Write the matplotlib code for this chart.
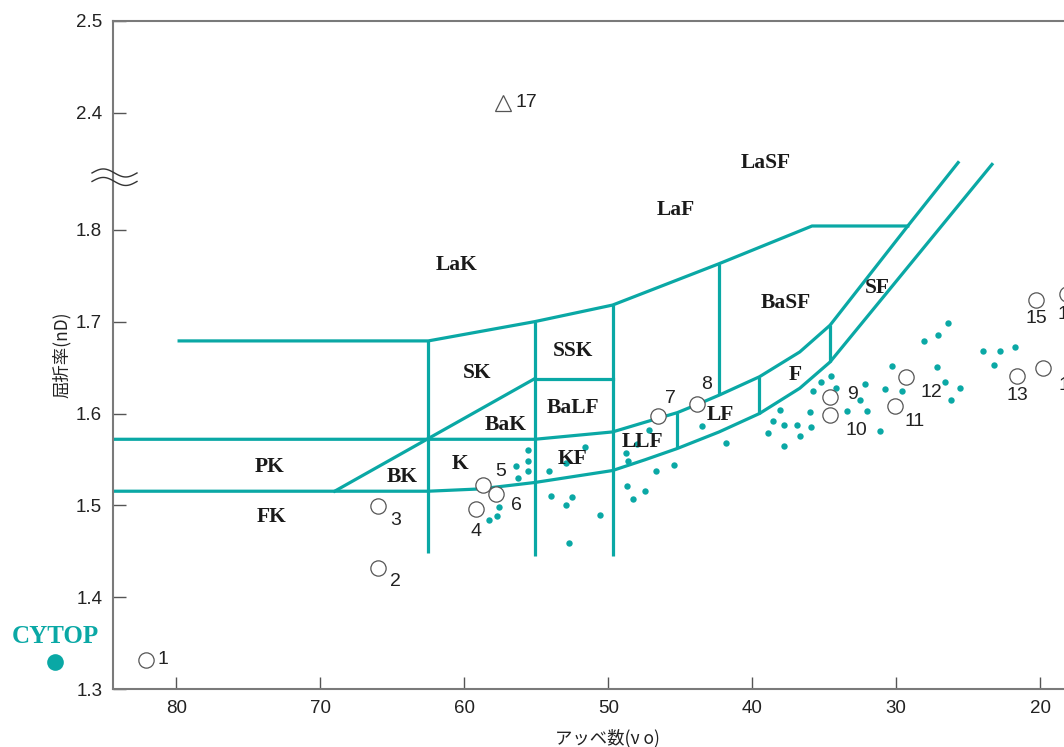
import numpy as np
import matplotlib.pyplot as plt

TEAL = "#0aa8a5"
GRAY = "#7a7a7a"

# glass map boundary lines (Abbe number, refractive index)
upper_vd = [84.4, 62.5, 55.1, 49.7, 46.5, 45.2, 43.8, 42.3, 39.5, 36.7, 34.6, 29.2, 25.7]
upper_nd = [1.572, 1.572, 1.572, 1.580, 1.595, 1.601, 1.610, 1.620, 1.640, 1.667, 1.696, 1.804, 1.873]
lower_vd = [84.4, 62.5, 58.9, 55.1, 49.7, 47.45, 45.2, 42.3, 39.5, 36.7, 34.6, 23.35]
lower_nd = [1.5155, 1.5155, 1.518, 1.525, 1.538, 1.5497, 1.562, 1.580, 1.600, 1.6275, 1.656, 1.871]
top_vd = [79.8, 62.5, 55.1, 49.7, 42.3, 35.85, 29.2]
top_nd = [1.679, 1.679, 1.700, 1.718, 1.763, 1.804, 1.804]
bak_vd = [55.1, 69.0]
bak_nd = [1.638, 1.5155]
ssk_vd = [55.1, 49.7]
ssk_nd = [1.638, 1.638]
vert_vd = [62.5, 55.1, 49.7, 42.3, 45.2, 39.5, 34.6]
vert_lo = [1.448, 1.445, 1.445, 1.620, 1.562, 1.600, 1.656]
vert_hi = [1.679, 1.700, 1.718, 1.763, 1.601, 1.640, 1.696]

# commercial optical glasses (small dots)
dots_vd = [55.6, 51.6, 56.4, 55.6, 55.6, 56.3, 54.1, 52.9, 54.0, 52.5, 52.9, 50.6, 52.7,
           57.6, 57.75, 58.3, 48.8, 48.0, 48.6, 48.7, 48.3, 47.45, 47.2, 46.7, 45.4,
           43.5, 41.8, 38.1, 38.55, 37.8, 36.9, 38.9, 36.7, 37.8, 35.9, 36.0, 35.8,
           35.2, 34.55, 34.2, 32.5, 33.4, 32.0, 32.2, 30.8, 30.3, 29.6, 28.1, 27.1,
           26.4, 27.2, 26.6, 25.6, 26.2, 24.0, 22.8, 21.75, 23.2, 31.1]
dots_nd = [1.560, 1.564, 1.543, 1.548, 1.538, 1.530, 1.537, 1.546, 1.510, 1.509, 1.500,
           1.490, 1.459, 1.498, 1.489, 1.484, 1.557, 1.567, 1.548, 1.521, 1.507, 1.516,
           1.582, 1.537, 1.544, 1.586, 1.568, 1.604, 1.592, 1.588, 1.587, 1.579, 1.576,
           1.565, 1.585, 1.602, 1.625, 1.634, 1.641, 1.628, 1.615, 1.603, 1.603, 1.632,
           1.627, 1.652, 1.625, 1.679, 1.685, 1.698, 1.651, 1.634, 1.628, 1.615, 1.668,
           1.668, 1.672, 1.653, 1.581]

# numbered materials (open circles)
sample_no = ["1", "2", "3", "4", "5", "6", "7", "8", "9", "10", "11", "12", "13", "14", "15", "16"]
sample_vd = [82.1, 66.0, 66.0, 59.2, 58.7, 57.8, 46.55, 43.84, 34.6, 34.6, 30.1, 29.35, 21.6, 19.8, 20.3, 18.15]
sample_nd = [1.332, 1.432, 1.499, 1.496, 1.522, 1.512, 1.597, 1.610, 1.618, 1.598, 1.608, 1.640, 1.641, 1.649, 1.724, 1.730]
tri_vd = 57.3
tri_nd = 2.411

region_names = ["PK", "FK", "BK", "K", "SK", "BaK", "BaLF", "SSK", "KF", "LLF", "LF", "F",
                "BaSF", "SF", "LaK", "LaF", "LaSF"]
region_vd = [73.5, 73.4, 64.3, 60.3, 59.1, 57.1, 52.45, 52.45, 52.45, 47.6, 42.2, 37.0,
             37.7, 31.3, 60.5, 45.3, 39.05]
region_nd = [1.5416, 1.487, 1.5307, 1.545, 1.644, 1.588, 1.606, 1.668, 1.5503, 1.569, 1.598,
             1.642, 1.720, 1.737, 1.762, 1.821, 1.873]

cytop_vd = 88.4
cytop_nd = 1.330

yticks = [1.3, 1.4, 1.5, 1.6, 1.7, 1.8, 2.4, 2.5]

# broken y axis: 1.88..2.36 squeezed to almost nothing
Y0, Y1, SHIFT = 1.88, 2.36, 0.473
K = (Y1 - SHIFT - Y0) / (Y1 - Y0)


def fwd(y):
    y = np.asarray(y, dtype=float)
    return np.where(y <= Y0, y, np.where(y >= Y1, y - SHIFT, Y0 + (y - Y0) * K))


def inv(y):
    y = np.asarray(y, dtype=float)
    return np.where(y <= Y0, y, np.where(y >= Y1 - SHIFT, y + SHIFT, Y0 + (y - Y0) / K))


fig = plt.figure(figsize=(10.64, 7.47), dpi=100)
ax = fig.add_axes([0.1065, 0.0772, 0.8935, 0.8947])
ax.set_yscale("function", functions=(fwd, inv))
ax.set_xlim(84.37, 18.35)
ax.set_ylim(1.3, 2.5)

lw = 2.3
for xs, ys in [(upper_vd, upper_nd), (lower_vd, lower_nd), (top_vd, top_nd),
               (bak_vd, bak_nd), (ssk_vd, ssk_nd)]:
    ax.plot(xs, ys, color=TEAL, lw=lw, solid_joinstyle="round", zorder=2)
ax.vlines(vert_vd, vert_lo, vert_hi, color=TEAL, lw=lw, zorder=2)

ax.plot(dots_vd, dots_nd, "o", color=TEAL, ms=4.6, mec="none", zorder=3)

ax.plot(sample_vd, sample_nd, "o", ms=11, mfc="white", mec="#555555", mew=0.9,
        zorder=4, clip_on=False)
offsets = [(8, 0, "left", "center"), (9, -10, "left", "center"), (9, -10, "left", "center"),
           (0, -16, "center", "center"), (9, 10, "left", "center"), (11, -8, "left", "center"),
           (9, 13, "center", "center"), (7, 14, "center", "center"), (12, 2, "left", "center"),
           (11, -11, "left", "center"), (7, -11, "left", "center"), (11, -11, "left", "center"),
           (0, -14, "center", "center"), (11, -12, "left", "center"), (0, -14, "center", "center"),
           (1, -15, "center", "center")]
for no, x, y, (dx, dy, ha, va) in zip(sample_no, sample_vd, sample_nd, offsets):
    ax.annotate(no, (x, y), xytext=(dx, dy), textcoords="offset points", ha=ha, va=va,
                fontsize=14, family="Liberation Sans", color="#222222", zorder=5,
                annotation_clip=False)

ax.plot(tri_vd, tri_nd, "^", ms=12, mfc="white", mec="#555555", mew=0.9, zorder=4)
ax.annotate("17", (tri_vd, tri_nd), xytext=(9, 0), textcoords="offset points",
            ha="left", va="center", fontsize=14, family="Liberation Sans", color="#222222")

for name, x, y in zip(region_names, region_vd, region_nd):
    ax.text(x, y, name, ha="center", va="center", fontsize=15.5, fontweight="bold",
            family="Liberation Serif", color="#1a1a1a", zorder=6)

ax.plot(cytop_vd, cytop_nd, "o", ms=12, color=TEAL, mec="none", clip_on=False)
ax.annotate("CYTOP", (cytop_vd, cytop_nd), xytext=(0, 18), textcoords="offset points",
            ha="center", va="center", fontsize=18, fontweight="bold",
            family="Liberation Serif", color=TEAL, annotation_clip=False)

# axis styling
ax.set_yticks(yticks)
ax.set_yticklabels([f"{t:.1f}" for t in yticks])
ax.set_xticks([80, 70, 60, 50, 40, 30, 20])
ax.tick_params(direction="in", length=9, width=1, color="#555555", labelsize=13.5,
               labelcolor="#222222")
ax.tick_params(axis="y", pad=8)
ax.tick_params(axis="x", pad=8)
for lab in ax.get_xticklabels() + ax.get_yticklabels():
    lab.set_family("Liberation Sans")
for s in ["left", "bottom", "top"]:
    ax.spines[s].set_color(GRAY)
    ax.spines[s].set_linewidth(1.5)
ax.spines["right"].set_visible(False)

# break marks on the y axis
t = np.linspace(0, 1, 60)
for yb in [0.7726, 0.7599]:
    ax.plot(-0.0224 + 0.0473 * t, yb + 0.006 * np.sin(2 * np.pi * t), color="#333333",
            lw=1.0, transform=ax.transAxes, clip_on=False, zorder=7)

cjk = ["Noto Sans CJK JP", "DejaVu Sans"]
fig.text(607 / 1064, 1 - 738 / 747, "アッベ数(ν o)", ha="center", va="center",
         fontsize=12.5, family=cjk, color="#222222")
fig.text(62 / 1064, 1 - 355 / 747, "屈折率(nD)", ha="center", va="center", rotation=90,
         fontsize=12.5, family=cjk, color="#222222")

fig.savefig("out.png", dpi=100)
